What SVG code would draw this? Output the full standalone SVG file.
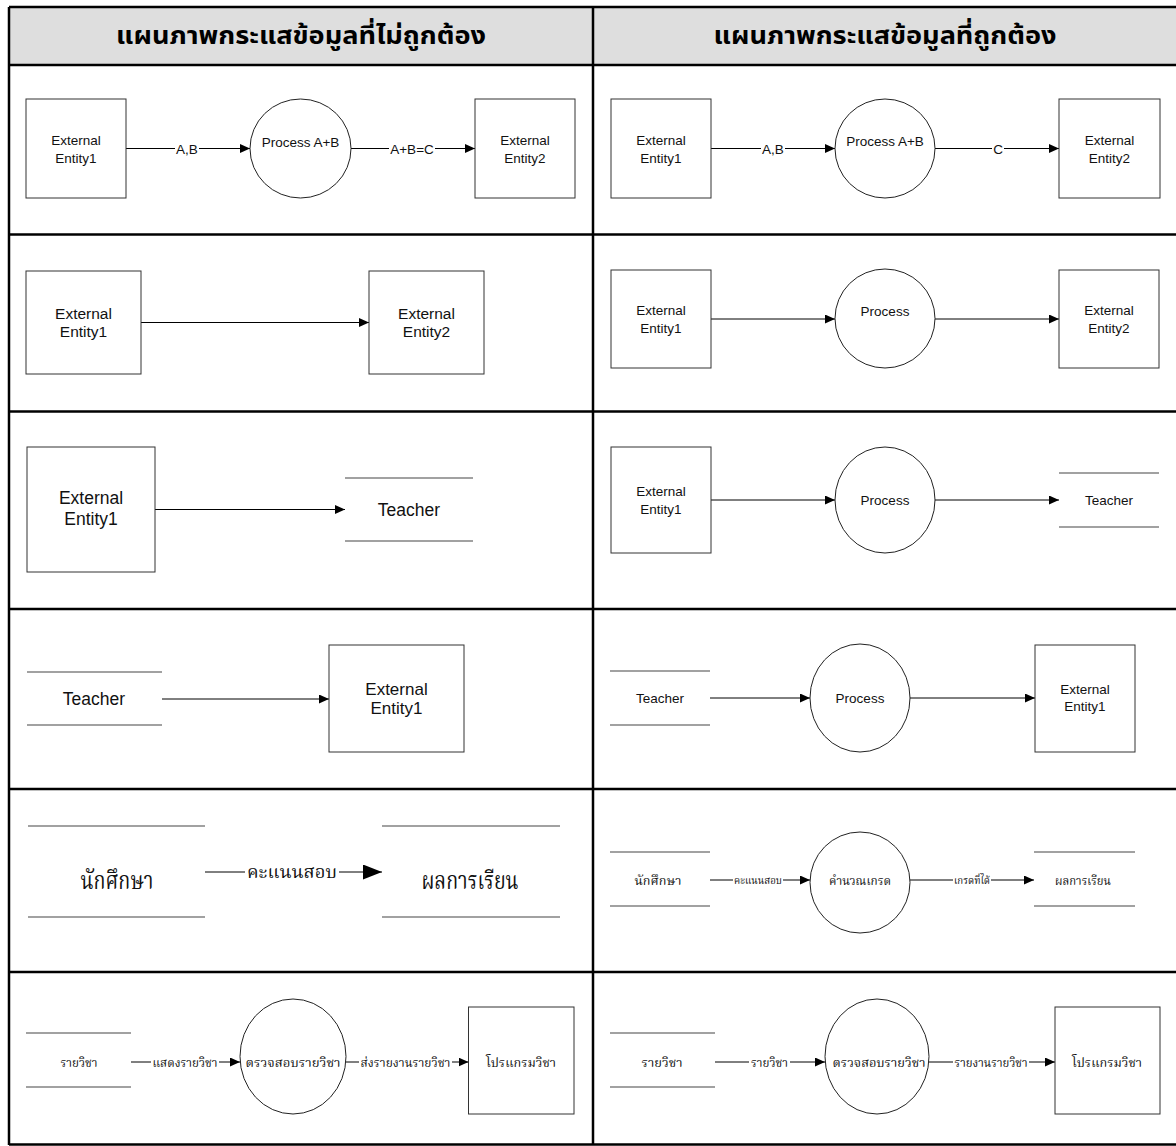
<svg xmlns="http://www.w3.org/2000/svg" width="1176" height="1146" viewBox="0 0 1176 1146">
  <style>
    .tb { fill: none; stroke: #000; stroke-width: 2.5; }
    .ent { fill: #fff; stroke: #333; stroke-width: 1; }
    .proc { fill: #fff; stroke: #222; stroke-width: 1; }
    .ds { stroke: #444; stroke-width: 1.2; }
    .flow { fill: none; stroke: #000; stroke-width: 1; }
    .en { font-family: "Liberation Sans", Arial, sans-serif; fill: #111; text-anchor: middle; }
    .thh { font-family: "Noto Sans Thai", "Noto Sans", sans-serif; font-weight: bold; fill: #000; text-anchor: middle; }
    .th { font-family: "Noto Serif Thai", "Noto Sans Thai", "Noto Sans", serif; fill: #111; text-anchor: middle; }
  </style>
  <defs>
    <marker id="ah" markerUnits="userSpaceOnUse" markerWidth="10" markerHeight="9" refX="10" refY="4.5" orient="auto">
      <path d="M0,0 L10,4.5 L0,9 z" fill="#000"/>
    </marker>
    <marker id="ahBig" markerUnits="userSpaceOnUse" markerWidth="19" markerHeight="15" refX="19" refY="7.5" orient="auto">
      <path d="M0,0 L19,7.5 L0,15 z" fill="#000"/>
    </marker>
  </defs>

  <rect width="1176" height="1146" fill="#fff"/>

  <!-- table frame -->
  <g id="table">
    <rect x="9" y="7" width="1170" height="58" fill="#dedede"/>
    <line class="tb" x1="9" y1="7" x2="1176" y2="7"/>
    <line class="tb" x1="9" y1="7" x2="9" y2="1145"/>
    <line class="tb" x1="593" y1="7" x2="593" y2="1145"/>
    <line class="tb" x1="9" y1="65" x2="1176" y2="65"/>
    <line class="tb" x1="9" y1="234.5" x2="1176" y2="234.5"/>
    <line class="tb" x1="9" y1="411.5" x2="1176" y2="411.5"/>
    <line class="tb" x1="9" y1="609" x2="1176" y2="609"/>
    <line class="tb" x1="9" y1="789" x2="1176" y2="789"/>
    <line class="tb" x1="9" y1="972" x2="1176" y2="972"/>
    <line class="tb" x1="9" y1="1144.5" x2="1176" y2="1144.5"/>
    <text class="thh" x="301" y="44" font-size="25" textLength="370" lengthAdjust="spacingAndGlyphs">แผนภาพกระแสข้อมูลที่ไม่ถูกต้อง</text>
    <text class="thh" x="885" y="44" font-size="25" textLength="343" lengthAdjust="spacingAndGlyphs">แผนภาพกระแสข้อมูลที่ถูกต้อง</text>
  </g>

  <!-- connectors -->
  <g id="connectors">
    <!-- row 1 -->
    <line class="flow" x1="126" y1="148.5" x2="175" y2="148.5"/>
    <line class="flow" x1="199" y1="148.5" x2="250" y2="148.5" marker-end="url(#ah)"/>
    <line class="flow" x1="351" y1="148.5" x2="389" y2="148.5"/>
    <line class="flow" x1="435" y1="148.5" x2="475" y2="148.5" marker-end="url(#ah)"/>
    <line class="flow" x1="711" y1="148.5" x2="761" y2="148.5"/>
    <line class="flow" x1="785" y1="148.5" x2="835" y2="148.5" marker-end="url(#ah)"/>
    <line class="flow" x1="935" y1="148.5" x2="992" y2="148.5"/>
    <line class="flow" x1="1004" y1="148.5" x2="1059" y2="148.5" marker-end="url(#ah)"/>
    <!-- row 2 -->
    <line class="flow" x1="141" y1="322.5" x2="369" y2="322.5" marker-end="url(#ah)"/>
    <line class="flow" x1="711" y1="319" x2="835" y2="319" marker-end="url(#ah)"/>
    <line class="flow" x1="935" y1="319" x2="1059" y2="319" marker-end="url(#ah)"/>
    <!-- row 3 -->
    <line class="flow" x1="155" y1="509.5" x2="345" y2="509.5" marker-end="url(#ah)"/>
    <line class="flow" x1="711" y1="500" x2="835" y2="500" marker-end="url(#ah)"/>
    <line class="flow" x1="935" y1="500" x2="1059" y2="500" marker-end="url(#ah)"/>
    <!-- row 4 -->
    <line class="flow" x1="162" y1="699" x2="329" y2="699" marker-end="url(#ah)"/>
    <line class="flow" x1="710" y1="698" x2="810" y2="698" marker-end="url(#ah)"/>
    <line class="flow" x1="910" y1="698" x2="1035" y2="698" marker-end="url(#ah)"/>
    <!-- row 5 -->
    <line class="flow" x1="205" y1="872" x2="245" y2="872"/>
    <line class="flow" x1="339" y1="872" x2="382" y2="872" marker-end="url(#ahBig)"/>
    <line class="flow" x1="710" y1="880" x2="733" y2="880"/>
    <line class="flow" x1="783" y1="880" x2="810" y2="880" marker-end="url(#ah)"/>
    <line class="flow" x1="910" y1="880" x2="953" y2="880"/>
    <line class="flow" x1="991" y1="880" x2="1034" y2="880" marker-end="url(#ah)"/>
    <!-- row 6 -->
    <line class="flow" x1="131" y1="1062" x2="151" y2="1062"/>
    <line class="flow" x1="219" y1="1062" x2="240" y2="1062" marker-end="url(#ah)"/>
    <line class="flow" x1="346" y1="1062" x2="359" y2="1062"/>
    <line class="flow" x1="452" y1="1062" x2="468.5" y2="1062" marker-end="url(#ah)"/>
    <line class="flow" x1="715" y1="1062" x2="749" y2="1062"/>
    <line class="flow" x1="790" y1="1062" x2="825" y2="1062" marker-end="url(#ah)"/>
    <line class="flow" x1="929" y1="1062" x2="953" y2="1062"/>
    <line class="flow" x1="1029" y1="1062" x2="1055" y2="1062" marker-end="url(#ah)"/>
  </g>

  <!-- connector labels -->
  <g id="flow-labels">
    <text class="en" x="187" y="153.5" font-size="13.5">A,B</text>
    <text class="en" x="412" y="153.5" font-size="13.5">A+B=C</text>
    <text class="en" x="773" y="153.5" font-size="13.5">A,B</text>
    <text class="en" x="998" y="153.5" font-size="13.5">C</text>
    <text class="th" x="292" y="878" font-size="17" textLength="90" lengthAdjust="spacingAndGlyphs">คะแนนสอบ</text>
    <text class="th" x="758" y="884" font-size="10" textLength="48" lengthAdjust="spacingAndGlyphs">คะแนนสอบ</text>
    <text class="th" x="972" y="884" font-size="10" textLength="36" lengthAdjust="spacingAndGlyphs">เกรดที่ได้</text>
    <text class="th" x="185" y="1067" font-size="12" textLength="65" lengthAdjust="spacingAndGlyphs">แสดงรายวิชา</text>
    <text class="th" x="405.5" y="1067" font-size="12" textLength="90" lengthAdjust="spacingAndGlyphs">ส่งรายงานรายวิชา</text>
    <text class="th" x="769.5" y="1067" font-size="12" textLength="37" lengthAdjust="spacingAndGlyphs">รายวิชา</text>
    <text class="th" x="991" y="1067" font-size="12" textLength="73" lengthAdjust="spacingAndGlyphs">รายงานรายวิชา</text>
  </g>

  <!-- row 1, incorrect -->
  <g id="r1-ext1">
    <rect class="ent" x="26" y="99" width="100" height="99"/>
    <text class="en" x="76" y="145" font-size="13.5">External</text>
    <text class="en" x="76" y="163" font-size="13.5">Entity1</text>
  </g>
  <g id="r1-proc">
    <ellipse class="proc" cx="300.5" cy="148.5" rx="50.5" ry="49.5"/>
    <text class="en" x="300.5" y="147" font-size="13.5">Process A+B</text>
  </g>
  <g id="r1-ext2">
    <rect class="ent" x="475" y="99" width="100" height="99"/>
    <text class="en" x="525" y="145" font-size="13.5">External</text>
    <text class="en" x="525" y="163" font-size="13.5">Entity2</text>
  </g>
  <!-- row 1, correct -->
  <g id="r1c-ext1">
    <rect class="ent" x="611" y="99" width="100" height="99"/>
    <text class="en" x="661" y="145" font-size="13.5">External</text>
    <text class="en" x="661" y="163" font-size="13.5">Entity1</text>
  </g>
  <g id="r1c-proc">
    <ellipse class="proc" cx="885" cy="148.5" rx="50" ry="49.5"/>
    <text class="en" x="885" y="146" font-size="13.5">Process A+B</text>
  </g>
  <g id="r1c-ext2">
    <rect class="ent" x="1059" y="99" width="101" height="99"/>
    <text class="en" x="1109.5" y="145" font-size="13.5">External</text>
    <text class="en" x="1109.5" y="163" font-size="13.5">Entity2</text>
  </g>

  <!-- row 2, incorrect -->
  <g id="r2-ext1">
    <rect class="ent" x="26" y="271" width="115" height="103"/>
    <text class="en" x="83.5" y="318.5" font-size="15.5">External</text>
    <text class="en" x="83.5" y="336.5" font-size="15.5">Entity1</text>
  </g>
  <g id="r2-ext2">
    <rect class="ent" x="369" y="271" width="115" height="103"/>
    <text class="en" x="426.5" y="318.5" font-size="15.5">External</text>
    <text class="en" x="426.5" y="336.5" font-size="15.5">Entity2</text>
  </g>
  <!-- row 2, correct -->
  <g id="r2c-ext1">
    <rect class="ent" x="611" y="270" width="100" height="98"/>
    <text class="en" x="661" y="315" font-size="13.5">External</text>
    <text class="en" x="661" y="333" font-size="13.5">Entity1</text>
  </g>
  <g id="r2c-proc">
    <ellipse class="proc" cx="885" cy="318.5" rx="50" ry="49.5"/>
    <text class="en" x="885" y="316" font-size="13.5">Process</text>
  </g>
  <g id="r2c-ext2">
    <rect class="ent" x="1059" y="270" width="100" height="98"/>
    <text class="en" x="1109" y="315" font-size="13.5">External</text>
    <text class="en" x="1109" y="333" font-size="13.5">Entity2</text>
  </g>

  <!-- row 3, incorrect -->
  <g id="r3-ext1">
    <rect class="ent" x="27" y="447" width="128" height="125"/>
    <text class="en" x="91" y="504" font-size="17.5">External</text>
    <text class="en" x="91" y="525" font-size="17.5">Entity1</text>
  </g>
  <g id="r3-store">
    <line class="ds" x1="345" y1="478" x2="473" y2="478"/>
    <line class="ds" x1="345" y1="541" x2="473" y2="541"/>
    <text class="en" x="409" y="515.5" font-size="17.5">Teacher</text>
  </g>
  <!-- row 3, correct -->
  <g id="r3c-ext1">
    <rect class="ent" x="611" y="447" width="100" height="106"/>
    <text class="en" x="661" y="496" font-size="13.5">External</text>
    <text class="en" x="661" y="514" font-size="13.5">Entity1</text>
  </g>
  <g id="r3c-proc">
    <ellipse class="proc" cx="885" cy="500" rx="50" ry="53"/>
    <text class="en" x="885" y="505" font-size="13.5">Process</text>
  </g>
  <g id="r3c-store">
    <line class="ds" x1="1059" y1="473" x2="1159" y2="473"/>
    <line class="ds" x1="1059" y1="527" x2="1159" y2="527"/>
    <text class="en" x="1109" y="505" font-size="13.5">Teacher</text>
  </g>

  <!-- row 4, incorrect -->
  <g id="r4-store">
    <line class="ds" x1="27" y1="672" x2="162" y2="672"/>
    <line class="ds" x1="27" y1="725" x2="162" y2="725"/>
    <text class="en" x="94" y="705" font-size="17.5">Teacher</text>
  </g>
  <g id="r4-ext1">
    <rect class="ent" x="329" y="645" width="135" height="107"/>
    <text class="en" x="396.5" y="695" font-size="17">External</text>
    <text class="en" x="396.5" y="714" font-size="17">Entity1</text>
  </g>
  <!-- row 4, correct -->
  <g id="r4c-store">
    <line class="ds" x1="610" y1="671" x2="710" y2="671"/>
    <line class="ds" x1="610" y1="725" x2="710" y2="725"/>
    <text class="en" x="660" y="703" font-size="13.5">Teacher</text>
  </g>
  <g id="r4c-proc">
    <ellipse class="proc" cx="860" cy="698" rx="50" ry="54"/>
    <text class="en" x="860" y="703" font-size="13.5">Process</text>
  </g>
  <g id="r4c-ext1">
    <rect class="ent" x="1035" y="645" width="100" height="107"/>
    <text class="en" x="1085" y="694" font-size="13.5">External</text>
    <text class="en" x="1085" y="711" font-size="13.5">Entity1</text>
  </g>

  <!-- row 5, incorrect -->
  <g id="r5-store1">
    <line class="ds" x1="28" y1="826" x2="205" y2="826"/>
    <line class="ds" x1="28" y1="917" x2="205" y2="917"/>
    <text class="th" x="117" y="889" font-size="24" textLength="73" lengthAdjust="spacingAndGlyphs">นักศึกษา</text>
  </g>
  <g id="r5-store2">
    <line class="ds" x1="382" y1="826" x2="560" y2="826"/>
    <line class="ds" x1="382" y1="917" x2="560" y2="917"/>
    <text class="th" x="470" y="889" font-size="24" textLength="97" lengthAdjust="spacingAndGlyphs">ผลการเรียน</text>
  </g>
  <!-- row 5, correct -->
  <g id="r5c-store1">
    <line class="ds" x1="610" y1="852" x2="710" y2="852"/>
    <line class="ds" x1="610" y1="906" x2="710" y2="906"/>
    <text class="th" x="658" y="885" font-size="12" textLength="47" lengthAdjust="spacingAndGlyphs">นักศึกษา</text>
  </g>
  <g id="r5c-proc">
    <ellipse class="proc" cx="860" cy="882.5" rx="50" ry="50.5"/>
    <text class="th" x="860" y="885" font-size="12" textLength="62" lengthAdjust="spacingAndGlyphs">คำนวณเกรด</text>
  </g>
  <g id="r5c-store2">
    <line class="ds" x1="1034" y1="852" x2="1135" y2="852"/>
    <line class="ds" x1="1034" y1="906" x2="1135" y2="906"/>
    <text class="th" x="1083" y="885" font-size="12" textLength="56" lengthAdjust="spacingAndGlyphs">ผลการเรียน</text>
  </g>

  <!-- row 6, incorrect -->
  <g id="r6-store">
    <line class="ds" x1="26" y1="1033" x2="131" y2="1033"/>
    <line class="ds" x1="26" y1="1087" x2="131" y2="1087"/>
    <text class="th" x="79" y="1067" font-size="12" textLength="37" lengthAdjust="spacingAndGlyphs">รายวิชา</text>
  </g>
  <g id="r6-proc">
    <ellipse class="proc" cx="293" cy="1056.5" rx="53" ry="57.5"/>
    <text class="th" x="293" y="1067" font-size="12" textLength="95" lengthAdjust="spacingAndGlyphs">ตรวจสอบรายวิชา</text>
  </g>
  <g id="r6-ext">
    <rect class="ent" x="468.5" y="1007" width="105.5" height="107"/>
    <text class="th" x="521" y="1067" font-size="12" textLength="70" lengthAdjust="spacingAndGlyphs">โปรแกรมวิชา</text>
  </g>
  <!-- row 6, correct -->
  <g id="r6c-store">
    <line class="ds" x1="610" y1="1033" x2="715" y2="1033"/>
    <line class="ds" x1="610" y1="1087" x2="715" y2="1087"/>
    <text class="th" x="662" y="1067" font-size="12" textLength="41" lengthAdjust="spacingAndGlyphs">รายวิชา</text>
  </g>
  <g id="r6c-proc">
    <ellipse class="proc" cx="877" cy="1056.5" rx="52" ry="57.5"/>
    <text class="th" x="879" y="1067" font-size="12" textLength="93" lengthAdjust="spacingAndGlyphs">ตรวจสอบรายวิชา</text>
  </g>
  <g id="r6c-ext">
    <rect class="ent" x="1055" y="1007" width="105" height="107"/>
    <text class="th" x="1107" y="1067" font-size="12" textLength="70" lengthAdjust="spacingAndGlyphs">โปรแกรมวิชา</text>
  </g>
</svg>
